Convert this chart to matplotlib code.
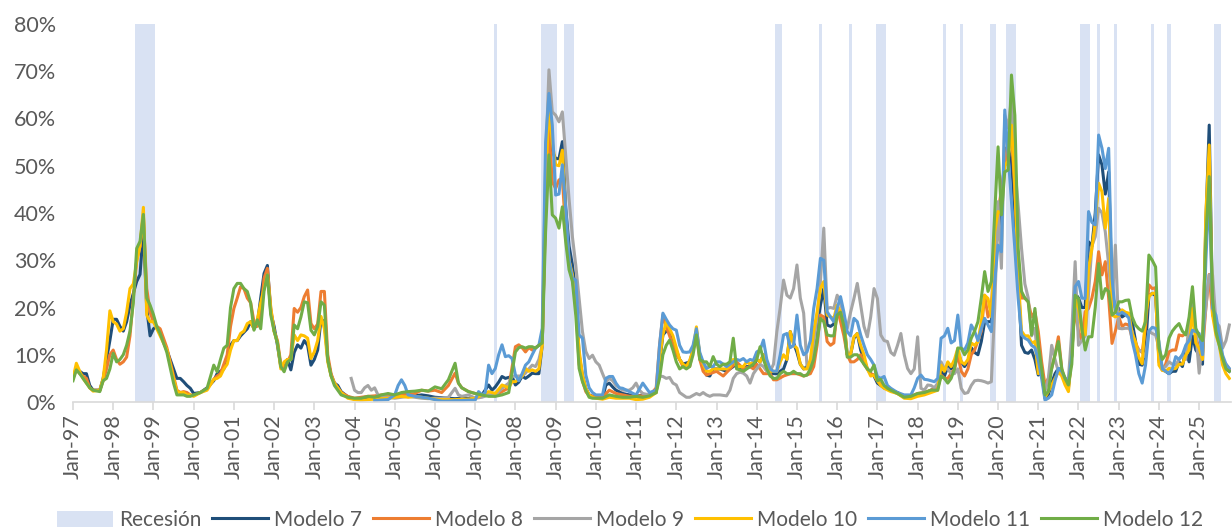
import matplotlib.pyplot as plt
from matplotlib.patches import Patch
from matplotlib.lines import Line2D

plt.rcParams['font.family'] = ['Lato', 'DejaVu Sans']

# month index: 0 = Jan-1997, 12 = Jan-1998, ...
tick_months = [0, 12, 24, 36, 48, 60, 72, 84, 96, 108, 120, 132, 144, 156, 168,
               180, 192, 204, 216, 228, 240, 252, 264, 276, 288, 300, 312, 324, 336]
tick_labels = ["Jan-97", "Jan-98", "Jan-99", "Jan-00", "Jan-01", "Jan-02", "Jan-03",
               "Jan-04", "Jan-05", "Jan-06", "Jan-07", "Jan-08", "Jan-09", "Jan-10",
               "Jan-11", "Jan-12", "Jan-13", "Jan-14", "Jan-15", "Jan-16", "Jan-17",
               "Jan-18", "Jan-19", "Jan-20", "Jan-21", "Jan-22", "Jan-23", "Jan-24",
               "Jan-25"]

recessions = [("1998-08", "1999-01"), ("2007-07", "2007-07"), ("2008-09", "2009-01"),
              ("2009-04", "2009-06"), ("2014-07", "2014-08"), ("2015-08", "2015-08"),
              ("2016-05", "2016-05"), ("2017-01", "2017-03"), ("2018-09", "2018-09"),
              ("2019-02", "2019-02"), ("2019-11", "2019-12"), ("2020-04", "2020-06"),
              ("2022-02", "2022-04"), ("2022-07", "2022-07"), ("2022-12", "2022-12"),
              ("2023-11", "2023-11"), ("2024-04", "2024-04"), ("2025-06", "2025-07")]

# (month index, probability %)
modelo7 = [(0,5.5),(1,7),(2,6.5),(3,6),(4,6),(5,3.5),(6,2.5),(8,2.5),(9,5),(10,9),(11,13),(12,17.5),(13,17.5),(14,16),(15,15),(16,17),(17,20.5),(18,23),(19,25.5),(20,27),(21,36.5),(22,19.8),(23,14),(24,15.5),(25,16),(26,14.5),(28,11),(30,7),(31,5),(32,5),(33,4.3),(34,3.5),(35,2.9),(36,1.8),(38,2),(40,3),(42,4.5),(43,6),(44,6.5),(45,7),(46,9),(47,12),(48,13),(49,13),(50,14),(52,15.5),(53,17),(54,15.5),(55,16.5),(56,22),(57,27.2),(58,28.9),(59,19),(60,16),(61,12),(62,7.5),(63,7),(64,9),(65,6.8),(66,10.5),(67,12.1),(68,11.4),(69,13),(70,12),(71,7.8),(72,9),(73,11),(74,17.5),(75,17),(76,9),(77,5.7),(78,4),(79,3.5),(80,2.2),(82,1.1),(84,0.6),(86,0.5),(88,0.8),(90,0.7),(92,0.8),(94,1),(96,1.2),(98,1.5),(100,1.3),(102,1.3),(104,1.5),(106,1.3),(108,1),(110,0.9),(112,0.8),(114,0.7),(116,0.8),(118,0.7),(120,0.8),(122,1.5),(124,3.6),(125,2.5),(126,3.2),(127,4.2),(128,5.4),(129,5),(130,5.2),(131,5.4),(132,3.6),(133,4.2),(134,5.5),(135,5),(136,5.5),(137,6.1),(138,6),(139,6),(140,12),(141,43),(142,60.7),(143,53),(144,51.5),(145,51.5),(146,55.1),(147,41),(148,33),(149,29),(150,23.4),(151,10),(152,5.7),(153,2.9),(154,1.5),(155,1.2),(156,1),(158,0.9),(159,3.6),(160,4),(161,3.2),(162,2.5),(164,1.8),(166,1.5),(168,1.2),(170,1.5),(172,1.5),(174,2),(175,8),(176,14.2),(177,15),(178,14.9),(179,13),(180,11),(181,9),(182,8),(184,8.5),(185,11),(186,14.9),(187,10),(188,8),(189,5.7),(190,5.5),(191,7),(193,7),(195,6.5),(197,7.5),(198,8),(199,7),(200,6.5),(201,7.5),(203,7.5),(204,9),(205,8.5),(206,10),(207,8),(208,6),(209,6),(210,6),(211,6.5),(212,7),(213,9),(214,14.9),(215,12.5),(216,10.5),(217,8),(218,7),(219,7.5),(220,8.5),(221,11),(222,16),(223,20.5),(224,24),(225,16.3),(226,16),(227,16.5),(228,19),(229,18),(230,17),(231,10),(232,10),(233,13.5),(234,14.5),(235,11),(236,9),(237,7),(238,6),(239,5.5),(240,4),(241,3.5),(242,3),(244,2.5),(246,2),(248,1.2),(250,1),(252,1.5),(254,1.8),(256,2.5),(258,3),(259,6.5),(260,5.5),(261,7.5),(262,7),(263,8),(264,10.5),(265,8.5),(266,7.5),(267,8.5),(268,11.5),(269,10.5),(270,10),(271,12.8),(272,17),(273,17),(274,17),(275,32.5),(276,35.3),(277,39.6),(278,53.7),(279,53.7),(280,51),(281,40),(282,26),(283,12),(284,10.5),(285,10.3),(286,11),(287,9),(288,5.7),(289,6.4),(290,0.8),(291,1.5),(292,4),(293,6),(294,7.1),(295,6.5),(296,4),(297,3),(298,10),(299,23),(300,22),(301,20),(302,20),(303,33.9),(304,33),(305,40),(306,52.3),(307,50.2),(308,44),(309,48.7),(310,23),(311,20),(312,19.8),(313,18),(314,18.5),(315,18.4),(316,17),(317,13),(318,8),(319,7.8),(320,11.5),(321,22.5),(322,23),(323,22.5),(324,9),(325,7),(326,6.5),(327,6),(328,6.5),(329,6.5),(330,8.5),(331,7.5),(332,11),(333,8.5),(334,14),(335,11),(336,10),(337,8),(338,38),(339,58.6),(340,19.8),(341,17),(342,14),(343,8.5),(344,7),(345,6.5)]

modelo8 = [(0,5),(1,7),(2,6),(3,5.5),(4,5),(5,3),(6,2.5),(8,2.5),(9,4.5),(10,7),(11,10),(12,11),(13,9),(14,8),(15,8.5),(16,9.5),(17,14),(18,22),(19,30),(20,33),(21,39.5),(22,24),(23,19),(24,17),(25,16),(26,15.5),(28,11.5),(30,5.5),(31,2.5),(32,2),(33,2.2),(34,2),(35,1.5),(36,1.4),(38,2),(40,2.8),(42,4.8),(43,5.5),(44,6),(45,8),(46,10),(47,16),(48,19.8),(49,22),(50,24.4),(51,24),(52,22),(53,21),(54,17),(55,16),(56,18.4),(57,26.2),(58,28.3),(59,20),(60,15),(61,13),(62,8),(63,7),(64,8.5),(65,10),(66,19.8),(67,19),(68,20),(69,22.3),(70,23.7),(71,16.6),(72,15.5),(73,16.5),(74,23.4),(75,23.4),(76,10),(77,6),(78,4),(79,3),(80,2),(82,1.2),(84,0.8),(86,1),(88,1.2),(90,1.3),(92,1.5),(94,1.6),(96,1.5),(98,1.8),(100,1.5),(102,1.8),(104,2.5),(106,2.3),(108,2.5),(110,2),(112,3.5),(114,6.1),(115,4),(116,3),(118,2.2),(120,1.8),(122,1.5),(124,1.5),(126,1.3),(128,2.2),(130,3),(132,11.7),(133,12.1),(134,11.5),(135,10.6),(136,11.5),(137,11),(138,11.5),(139,12),(140,12.5),(141,40),(142,58),(143,46.6),(144,45.2),(145,47),(146,47.3),(147,36),(148,30),(149,26),(150,21),(151,8),(152,4.5),(153,2.2),(154,1.3),(156,1.2),(158,1),(160,2.5),(162,1.8),(164,1.5),(166,1.2),(168,1.3),(170,1.3),(172,1.3),(174,3),(175,12),(176,18.4),(177,16),(178,14),(179,12),(180,10),(181,9),(182,7.5),(184,7.5),(186,14.5),(187,9),(188,6.5),(189,5.7),(190,6),(192,6.5),(194,5.5),(196,7),(198,8.5),(200,7),(202,7.5),(203,7),(204,8),(206,6),(208,6),(209,4.7),(210,4.7),(212,5.5),(214,6),(216,6),(218,5.5),(220,6),(221,7.5),(222,12),(223,18.4),(224,18),(225,12.8),(226,12),(227,12.5),(228,19.8),(229,17),(230,14),(231,10),(232,8.5),(233,8.5),(234,9),(235,10),(236,8),(237,7),(238,6),(239,5.7),(240,4.5),(242,3),(244,2.5),(246,1.8),(248,1),(250,1.2),(252,1.8),(254,2),(256,2.5),(258,3),(259,5.7),(260,5),(261,5),(262,6),(263,7),(264,10),(265,6.5),(266,5.5),(267,7),(268,10),(269,11),(270,13),(271,15),(272,22.6),(273,18),(274,20),(275,30),(276,40),(277,45),(278,50),(279,55),(280,57),(281,45),(282,30),(283,22),(284,22),(285,21.2),(286,18),(287,19),(288,14.9),(289,8.5),(290,3.6),(291,5),(292,7.1),(293,10),(294,13.8),(295,7.1),(296,4),(297,3.6),(298,12),(299,19.8),(300,15),(301,13),(302,19.1),(303,19.8),(304,22),(305,25.5),(306,31.8),(307,26.9),(308,29.7),(309,22),(310,12.4),(311,15),(312,18),(313,16),(314,16.5),(315,16.3),(316,13.5),(317,12.5),(318,11),(319,10.5),(320,16),(321,24.8),(322,24),(323,24.2),(324,8.5),(325,6.7),(326,8),(327,10.6),(328,11),(329,11),(330,14.2),(331,14),(332,14.5),(333,16),(334,18.4),(335,14),(336,11),(337,10.5),(338,20),(339,27),(340,18.4),(341,17),(342,14),(343,8.5),(344,8),(345,7)]

modelo9 = [(83,5),(84,2.5),(85,2),(86,2),(87,3),(88,3.5),(89,2.5),(90,3),(91,1.5),(92,1.2),(94,1),(96,0.8),(98,1),(100,1.2),(102,1),(104,0.8),(106,0.7),(108,0.8),(110,0.8),(112,1),(114,2.9),(115,1.5),(116,1.2),(118,1.5),(120,0.8),(122,1),(124,1.5),(126,1.5),(128,2.9),(130,4),(131,5.4),(132,5.5),(134,5.5),(135,6.1),(136,7),(137,7.8),(138,7.5),(139,9),(140,12),(141,50),(142,70.3),(143,61.4),(144,60.7),(145,59.3),(146,61.4),(147,52.3),(148,43),(149,35),(150,29),(151,22),(152,14.9),(153,10.7),(154,9.2),(155,9.9),(156,8.5),(157,7.8),(158,6),(159,4.3),(160,5),(161,4.5),(162,3.5),(164,2.5),(166,2.5),(167,3),(168,4),(169,2.5),(170,1.8),(172,1.5),(174,2.5),(175,5.5),(176,5.4),(177,5),(178,5.2),(179,4),(180,3.6),(181,2),(182,1.5),(183,1),(184,1),(186,1.8),(187,1.5),(188,2),(189,1.5),(190,1.2),(191,1.5),(193,1.5),(195,1.3),(196,2.5),(197,5),(198,6),(199,6.3),(200,6.1),(201,5.5),(202,4),(203,6),(204,7),(205,8),(206,7.5),(207,6.5),(208,6.5),(209,8),(210,14.9),(211,20),(212,25.8),(213,22.6),(214,22),(215,24),(216,29),(217,22),(218,18.8),(219,7.5),(220,7),(221,12.1),(222,18),(223,25.5),(224,36.8),(225,19.8),(226,20),(227,19.8),(228,22.6),(229,21),(230,18),(231,15.6),(232,19),(233,21.9),(234,25.1),(235,20.5),(236,16),(237,13.8),(238,18),(239,24),(240,21.9),(241,14.2),(242,13),(243,12.8),(244,10.5),(245,9.9),(246,12),(247,14.5),(248,10),(249,7.1),(250,6),(251,7),(252,13.8),(253,2.9),(254,2.5),(255,3.6),(256,3.5),(257,3),(258,4),(259,8.5),(260,7),(261,7),(262,6),(263,6),(264,7),(265,2.9),(266,1.8),(267,2),(268,3.5),(269,4.5),(270,4.6),(271,4.5),(272,4.3),(273,4),(274,4.3),(275,19.8),(276,42.4),(277,28.3),(278,60.7),(279,58),(280,64.3),(281,50),(282,41.6),(283,32.5),(284,25),(285,22),(286,14),(287,15.6),(288,8),(289,5.7),(290,2.2),(291,5),(292,12),(293,9),(294,6.4),(295,6.5),(296,5),(297,5),(298,15),(299,29.7),(300,12),(301,13),(302,14),(303,23),(304,33),(305,35),(306,41),(307,40),(308,36),(309,29),(310,20),(311,33.2),(312,15.6),(313,15.5),(314,15.6),(315,15.6),(316,15),(317,11.5),(318,11),(319,10.6),(320,9.5),(321,15),(322,14.5),(323,14.2),(324,11.4),(325,7),(326,7.5),(327,8.5),(328,8),(329,7.8),(330,9),(331,10),(332,9),(333,17),(334,21.2),(335,14.9),(336,6.1),(337,13),(338,20),(339,26.9),(340,26.9),(341,17),(342,16),(343,11.4),(344,13),(345,16.3)]

modelo10 = [(0,5),(1,8.2),(2,6.5),(3,5),(4,4),(5,3),(6,2.3),(8,2.5),(9,5),(10,11),(11,19.3),(12,17),(13,16.5),(14,15),(15,15.5),(16,19),(17,24),(18,25),(19,29.7),(20,33),(21,41.2),(22,18.4),(23,17),(24,17),(25,15.5),(26,14),(28,11),(30,5),(31,2.2),(32,2),(33,2),(34,1.5),(35,1.5),(36,1.2),(38,2),(40,2.5),(42,4.8),(43,5),(44,5.5),(45,7),(46,8),(47,11),(48,13),(49,13),(50,14.5),(51,15),(52,16.6),(53,17),(54,15.5),(55,17.5),(56,21),(57,24),(58,26.9),(59,19.8),(60,15),(61,12.5),(62,7),(63,8.5),(64,9),(65,9),(66,14.2),(67,13),(68,14.2),(69,14),(70,13.5),(71,9.2),(72,10.6),(73,13),(74,18.1),(75,15.5),(76,8.5),(77,5.5),(78,4),(79,3),(80,2),(82,0.8),(84,0.5),(86,0.3),(88,0.5),(90,0.6),(92,0.7),(94,0.8),(96,1),(98,1.2),(100,1),(102,1.2),(104,1),(106,0.8),(108,0.6),(110,0.5),(112,0.5),(114,0.5),(116,0.6),(118,0.6),(120,0.8),(122,1.5),(124,2.2),(126,1.8),(128,3.6),(130,3),(131,4.3),(132,4.3),(134,5.5),(135,7.1),(136,6.5),(137,6.8),(138,6.5),(139,7),(140,12),(141,45),(142,62.9),(143,55),(144,50.2),(145,50),(146,53.3),(147,39.6),(148,30),(149,27),(150,20.5),(151,11),(152,5.7),(153,2.9),(154,1.5),(155,1),(156,0.8),(158,0.6),(160,1),(162,0.8),(164,0.8),(166,0.8),(168,0.5),(170,0.6),(172,1),(174,2),(175,9),(176,14.2),(177,17),(178,15.5),(179,14),(180,11.5),(181,9),(182,8),(183,7.5),(184,8.8),(185,11),(186,15.9),(187,10),(188,8),(189,6.5),(190,6.5),(191,7),(193,7),(195,7),(196,7.5),(197,9),(198,7.5),(199,7.5),(200,7.5),(201,8.5),(202,8),(203,8.5),(204,9),(205,8.5),(206,10),(207,7.5),(208,6.5),(209,6.5),(210,6.5),(211,8.5),(212,10),(213,9),(214,14.9),(215,12),(216,11.4),(217,8),(218,7),(219,7),(220,9),(221,15),(222,19),(223,24),(224,25.5),(225,18.4),(226,18),(227,17.7),(228,20.5),(229,19),(230,17.5),(231,10),(232,10),(233,13.8),(234,14.5),(235,12),(236,10),(237,7),(238,5.5),(239,5.7),(240,4.5),(241,3.5),(242,2.9),(244,2.2),(246,1.8),(248,0.8),(250,0.7),(252,1.2),(254,1.5),(256,2),(258,2.5),(259,7.8),(260,6.5),(261,8.5),(262,7.5),(263,9),(264,11.4),(265,8.5),(266,8),(267,9),(268,12.5),(269,12),(270,12.8),(271,17),(272,22.6),(273,21.9),(274,18),(275,36),(276,40.3),(277,40),(278,50),(279,51),(280,58.6),(281,46),(282,26.9),(283,15),(284,14),(285,14),(286,12.5),(287,12.8),(288,6),(289,6.4),(290,1),(291,2.2),(292,3.6),(293,5),(294,6.4),(295,5.5),(296,3.6),(297,2.2),(298,10),(299,21.9),(300,19.8),(301,14.9),(302,14.2),(303,28.3),(304,32.5),(305,38),(306,46.3),(307,44.5),(308,36.8),(309,43.1),(310,18.4),(311,18),(312,18.4),(313,19.5),(314,19),(315,18.8),(316,14.5),(317,12.8),(318,9.5),(319,8.1),(320,18.4),(321,22.3),(322,23),(323,23),(324,7.8),(325,6.7),(326,6.5),(327,7.1),(328,7),(329,7.1),(330,8),(331,8),(332,9.9),(333,11),(334,19.8),(335,12.5),(336,11.4),(337,9),(338,40),(339,54.4),(340,18.4),(341,14.2),(342,12),(343,7.8),(344,6),(345,5)]

modelo11 = [(90,0.3),(92,0.4),(94,0.5),(96,1.5),(97,3.5),(98,4.7),(99,3.5),(100,1.5),(102,1.2),(104,1),(106,0.8),(108,0.5),(110,0.2),(112,0.2),(114,0.3),(116,0.3),(118,0.4),(120,0.4),(121,2.2),(122,1.5),(123,2),(124,7.8),(125,6),(126,7.1),(127,10),(128,12.1),(129,9.6),(130,9.8),(131,9.2),(132,5.7),(133,4.5),(134,6),(135,7.8),(136,8.5),(137,10),(138,11.4),(139,12),(140,15.6),(141,55),(142,65.3),(143,58.6),(144,43.8),(145,44),(146,50.2),(147,41),(148,30),(149,26.2),(150,25.8),(151,14.2),(152,13.5),(153,5.7),(154,3),(155,2),(156,1.5),(158,1.5),(159,5),(160,5.4),(161,5.4),(162,4),(163,3),(164,2.9),(166,2.2),(168,1.5),(170,4),(171,3),(172,2),(174,2.5),(175,12),(176,18.8),(177,17.5),(178,16.3),(179,15.5),(180,15.2),(181,12),(182,10.6),(183,10.5),(184,10.6),(185,12),(186,15.5),(187,10.5),(188,8.5),(189,7.1),(190,7.5),(191,7.5),(192,8.5),(193,8.5),(194,8),(195,7.5),(196,8),(197,8.5),(198,9),(199,8.8),(200,9.2),(201,8.5),(202,9),(203,8.8),(204,10.6),(205,11),(206,13.1),(207,9),(208,7),(209,6.5),(210,6.5),(211,10),(212,14.2),(213,14.5),(214,11.5),(215,12),(216,18.4),(217,12),(218,10),(219,10.6),(220,13),(221,19.8),(222,24),(223,30.4),(224,30),(225,19.1),(226,18),(227,17),(228,19.8),(229,22.3),(230,19),(231,14.9),(232,14),(233,17.7),(234,17),(235,14.2),(236,12),(237,10),(238,9),(239,7.8),(240,5.4),(241,5),(242,5.4),(243,3.5),(244,2.9),(246,2),(248,1.5),(250,1.5),(251,3),(252,5),(253,5.7),(254,4.8),(255,4.7),(256,4.5),(257,4.3),(258,5),(259,13.5),(260,14),(261,15.6),(262,12.5),(263,13),(264,18.4),(265,11.4),(266,11),(267,12.5),(268,16.3),(269,15),(270,13),(271,15.5),(272,17.7),(273,16.3),(274,14.9),(275,25.5),(276,33.2),(277,31.8),(278,61.8),(279,52.3),(280,42.4),(281,32.5),(282,21.9),(283,14.2),(284,13.5),(285,13.1),(286,12),(287,11.5),(288,8.9),(289,5),(290,0.4),(291,0.8),(292,1.5),(293,4.5),(294,7.1),(295,6.5),(296,5),(297,4),(298,10),(299,24.4),(300,25.5),(301,22),(302,21.9),(303,40.3),(304,38),(305,37.5),(306,56.5),(307,53.7),(308,49.4),(309,53.7),(310,26.2),(311,19),(312,18.5),(313,19),(314,18.5),(315,17.8),(316,13),(317,10),(318,6),(319,4),(320,7.8),(321,15),(322,15.8),(323,15.6),(324,12.8),(325,7),(326,6.5),(327,6),(328,7),(329,9.6),(330,9),(331,10),(332,12),(333,13),(334,15.2),(335,14.9),(336,14.5),(337,10),(338,30),(339,45.2),(340,19.8),(341,18.4),(342,14),(343,9.9),(344,8),(345,7.1)]

modelo12 = [(0,4.5),(1,6.8),(2,6),(3,5),(4,4),(5,3),(6,2.5),(8,2.2),(9,4.5),(10,5),(11,7),(12,10.3),(13,8.5),(14,9),(15,10),(16,12),(17,15),(18,21),(19,32.5),(20,34),(21,39.7),(22,22),(23,20.5),(24,18.5),(25,16),(26,14.5),(28,10.5),(30,4),(31,1.5),(32,1.5),(33,1.5),(34,1.2),(35,1.2),(36,1.5),(38,2),(40,2.9),(42,7.8),(43,6.4),(44,9),(45,11.4),(46,12),(47,20),(48,24),(49,25.1),(50,25.1),(51,24),(52,23.4),(53,21),(54,15.2),(55,17.4),(56,15.5),(57,23.5),(58,26.9),(59,18.4),(60,15),(61,12.5),(62,7.5),(63,6.4),(64,8.5),(65,9),(66,16.3),(67,15.5),(68,18),(69,21.2),(70,21),(71,15.2),(72,14.2),(73,16),(74,21.2),(75,20.5),(76,9),(77,5.5),(78,3.5),(79,2.5),(80,1.5),(82,1),(84,0.8),(86,0.8),(88,1.2),(90,1),(92,1.5),(94,1.8),(96,1.5),(98,2),(100,2.2),(102,2.3),(104,2.5),(106,2.3),(108,3.2),(110,2.8),(112,4.7),(114,8.2),(115,4),(116,3),(118,2.2),(120,1.8),(122,1.5),(124,1.2),(126,1.2),(128,1.5),(130,2),(132,10.6),(133,11.5),(134,11.7),(135,11.4),(136,11.7),(137,11.7),(138,11.4),(139,12),(140,12.5),(141,36),(142,52.3),(143,39.6),(144,38.9),(145,36.8),(146,41.3),(147,33.9),(148,28),(149,25.5),(150,18.4),(151,7.1),(152,4.3),(153,2.5),(154,1),(155,0.8),(156,0.8),(158,0.8),(160,1.5),(162,1.2),(164,1),(166,1),(168,1.2),(170,1),(172,1.3),(174,2),(175,5),(176,10),(177,12),(178,13.1),(179,11),(180,8.5),(181,7),(182,7.5),(183,7),(184,7.5),(185,10),(186,14.2),(187,9),(188,8.5),(189,8.5),(190,7.5),(191,9.6),(192,8),(193,7.5),(194,8),(195,8),(196,8.5),(197,13.5),(198,7),(199,6.8),(200,6.5),(201,7),(202,7.5),(203,8),(204,9),(205,11.7),(206,9),(207,7),(208,5.5),(209,5),(210,5),(211,6),(212,6.5),(213,6),(214,6),(215,6.5),(216,6),(217,6),(218,5.5),(219,5.7),(220,7),(221,9),(222,13),(223,17.7),(224,17),(225,14.2),(226,14),(227,14),(228,18.4),(229,19),(230,16),(231,9.5),(232,9.5),(233,10),(234,10),(235,9),(236,8),(237,7),(238,6.5),(239,7.8),(240,4.5),(241,4.8),(242,3.5),(243,2.9),(244,2.5),(246,1.8),(248,1),(250,1.2),(252,1.8),(254,2),(256,2.5),(258,2.5),(259,5.5),(260,5),(261,4),(262,5),(263,7),(264,11.4),(265,11.4),(266,10),(267,11),(268,13.5),(269,15),(270,17),(271,22),(272,27.6),(273,23.4),(274,25.5),(275,39.6),(276,54),(277,39.6),(278,48.7),(279,49.1),(280,69.2),(281,60.7),(282,32.5),(283,23.4),(284,22),(285,21.2),(286,14.2),(287,19.8),(288,12.1),(289,7.1),(290,1.5),(291,2.2),(292,7.1),(293,10),(294,12.8),(295,7),(296,5),(297,3.6),(298,8),(299,22.6),(300,21.9),(301,15.6),(302,11),(303,13.8),(304,13.8),(305,20),(306,29.3),(307,21.9),(308,24),(309,23.4),(310,18.4),(311,19),(312,21.2),(313,21.2),(314,21.5),(315,21.6),(316,18),(317,16.3),(318,15.5),(319,15),(320,17),(321,31.1),(322,30),(323,28.6),(324,11.4),(325,9),(326,10),(327,13.5),(328,15),(329,15.9),(330,16.6),(331,15),(332,14.2),(333,18),(334,24.4),(335,15.6),(336,14),(337,13),(338,35),(339,47.7),(340,21.9),(341,14.9),(342,12),(343,9.2),(344,7),(345,6.5)]

series = [("Modelo 7", modelo7, "#1F4E79"),
          ("Modelo 8", modelo8, "#ED7D31"),
          ("Modelo 9", modelo9, "#A5A5A5"),
          ("Modelo 10", modelo10, "#FFC000"),
          ("Modelo 11", modelo11, "#5B9BD5"),
          ("Modelo 12", modelo12, "#70AD47")]

band_color = "#D9E2F3"
text_color = "#595959"
axis_color = "#D9D9D9"


def month_index(s):
    y, m = s.split("-")
    return (int(y) - 1997) * 12 + int(m) - 1


fig = plt.figure(figsize=(12.32, 5.29), dpi=100)
ax = fig.add_axes([73 / 1232, 127 / 529, 1158 / 1232, 378 / 529])

for start, end in recessions:
    ax.axvspan(month_index(start) - 0.5, month_index(end) + 0.5,
               color=band_color, lw=0, zorder=0)

for name, pts, color in series:
    xs = [p[0] for p in pts]
    ys = [p[1] for p in pts]
    ax.plot(xs, ys, color=color, lw=2.2, solid_joinstyle='round', zorder=2)

ax.set_xlim(0, 345.5)
ax.set_ylim(0, 80)
ax.set_yticks(range(0, 81, 10))
ax.set_yticklabels([f"{v}%" for v in range(0, 81, 10)])
ax.set_xticks(tick_months)
ax.set_xticklabels(tick_labels, rotation=90)

for side in ["left", "right", "top"]:
    ax.spines[side].set_visible(False)
ax.spines["bottom"].set_color(axis_color)
ax.spines["bottom"].set_linewidth(1.2)
ax.tick_params(axis="x", length=6, width=1.2, color=axis_color,
               labelcolor=text_color, labelsize=15.5, pad=3)
ax.tick_params(axis="y", length=0, labelcolor=text_color, labelsize=15.5, pad=12)

handles = [Patch(facecolor=band_color, edgecolor="none")]
labels = ["Recesión"]
for name, pts, color in series:
    handles.append(Line2D([], [], color=color, lw=2.2))
    labels.append(name)

leg = fig.legend(handles, labels, loc="center", ncol=7, frameon=False,
                 bbox_to_anchor=(630 / 1232, 9 / 529), fontsize=15,
                 handlelength=2.7, handletextpad=0.3, columnspacing=0.5,
                 handleheight=0.8)
for t in leg.get_texts():
    t.set_color(text_color)

fig.savefig("out.png", dpi=100)
